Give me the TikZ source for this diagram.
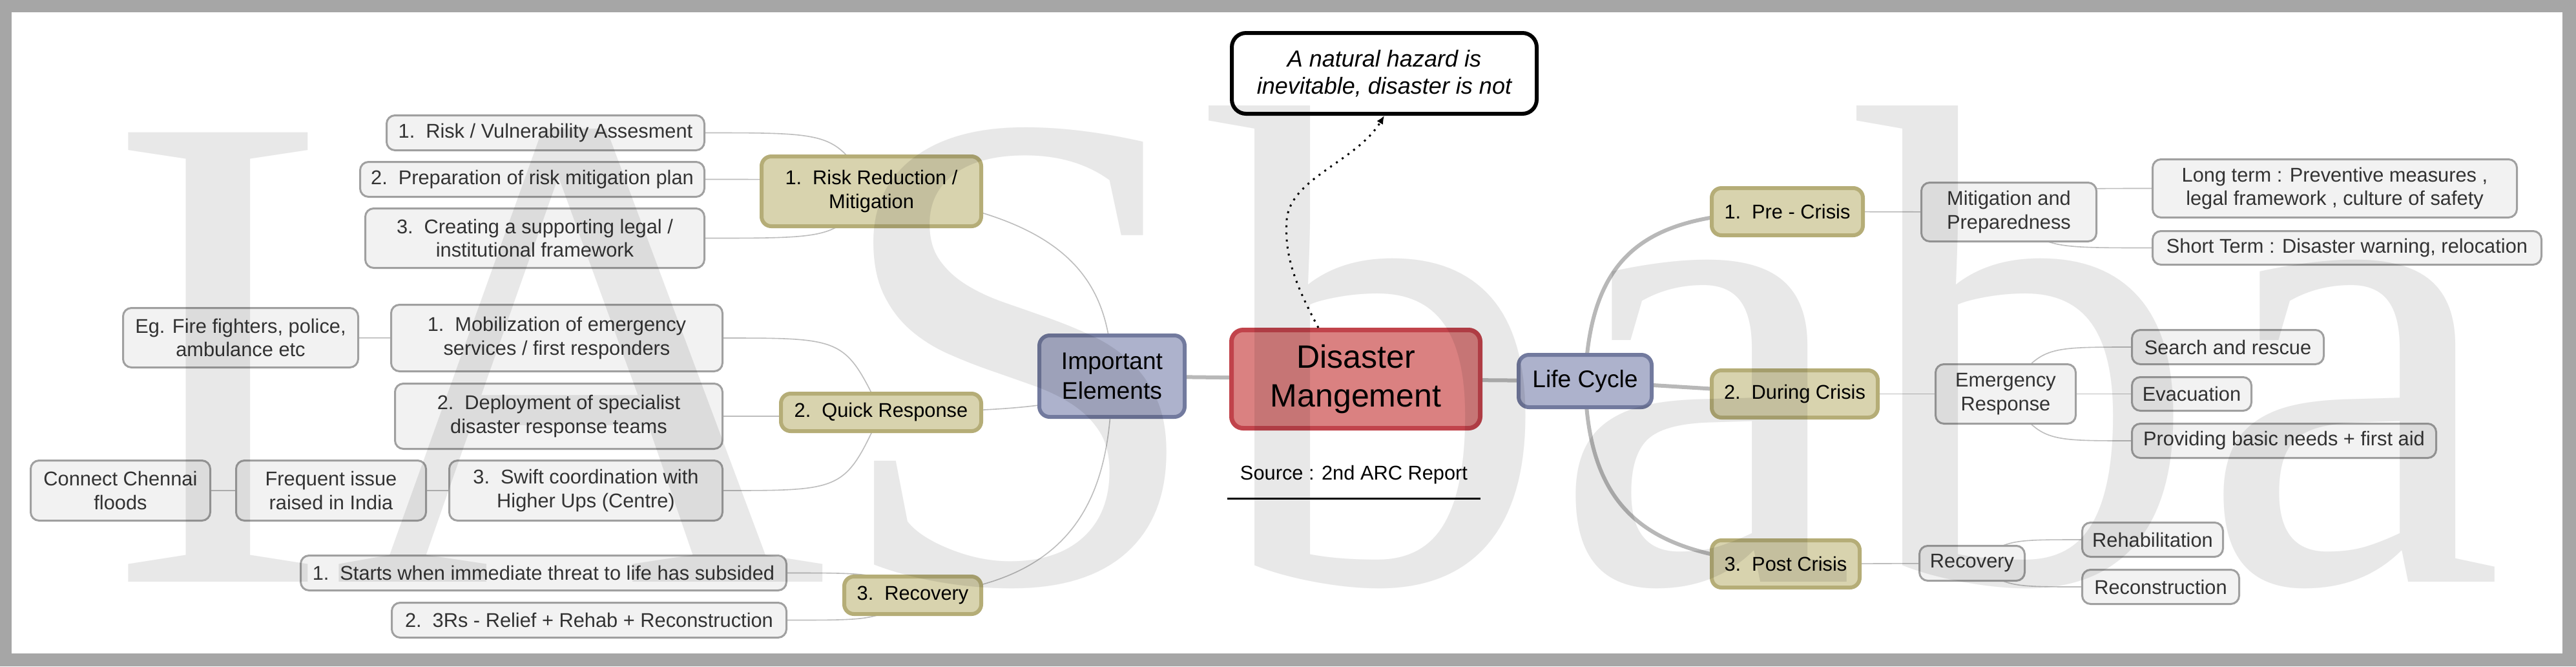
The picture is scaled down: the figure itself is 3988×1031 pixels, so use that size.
\documentclass[tikz,border=0pt]{standalone}
\usepackage{fontspec}
\setmainfont{Liberation Sans}
\newfontfamily\wmfont{Liberation Serif}
\usetikzlibrary{calc,arrows.meta}
\pgfdeclarelayer{framelayer}
\pgfdeclarelayer{edgelayer}
\pgfsetlayers{framelayer,edgelayer,main}
\definecolor{frameg}{HTML}{A6A6A6}
\definecolor{gfill}{HTML}{F2F2F2}
\definecolor{gdraw}{HTML}{A0A0A0}
\definecolor{gtext}{HTML}{333333}
\definecolor{tfill}{HTML}{D8D3AE}
\definecolor{tdraw}{HTML}{B5AD77}
\definecolor{pfill}{HTML}{ADB2CC}
\definecolor{pdraw}{HTML}{727A9E}
\definecolor{dfill}{HTML}{DA8181}
\definecolor{ddraw}{HTML}{C1434B}
\definecolor{lnkc}{HTML}{BDBDBD}
\definecolor{trunkc}{HTML}{B8B8B8}
\newcommand{\fsn}{\fontsize{7.7}{9.2}\selectfont}
\newcommand{\ns}{\hspace{0.55em}}
\newcommand{\bx}[7]{\node[#2, minimum width=#5*0.25pt, minimum height=#6*0.25pt] (#1) at (#3,#4) {#7};}
\begin{document}
\begin{tikzpicture}[x=0.25pt,y=-0.25pt,
  gbox/.style={rectangle, rounded corners=3.25pt, draw=gdraw, line width=0.75pt, fill=gfill, text=gtext, font=\fsn, align=center, inner sep=0pt},
  tbox/.style={rectangle, rounded corners=3.75pt, draw=tdraw, line width=1.5pt, fill=tfill, text=black, font=\fsn, align=center, inner sep=0pt},
  pbox/.style={rectangle, rounded corners=4pt, draw=pdraw, line width=1.5pt, fill=pfill, text=black, font=\fontsize{9.3}{11.5}\selectfont, align=center, inner sep=0pt},
  dbox/.style={rectangle, rounded corners=4.5pt, draw=ddraw, line width=1.75pt, fill=dfill, text=black, font=\fontsize{12.5}{15}\selectfont, align=center, inner sep=0pt},
  qbox/.style={rectangle, rounded corners=5.5pt, draw=black, line width=1.5pt, fill=white, text=black, font=\fontsize{9}{10.6}\selectfont\itshape, align=center, inner sep=0pt},
  lnk/.style={draw=lnkc, line width=0.4pt},
  trunk/.style={draw=trunkc, line width=1.5pt},
  wmark/.style={anchor=base west, inner sep=0pt, text=black, opacity=0.09, font=\wmfont\fontsize{265.5}{265.5}\selectfont}
]
\useasboundingbox (0,0) rectangle (3988,1031);
\begin{pgfonlayer}{framelayer}
\fill[frameg] (0,0) rectangle (3988,1031);
\fill[white] (18,19) rectangle (3967,1011);
\end{pgfonlayer}

% left side
\bx{a1}{gbox}{844.5}{205.5}{492}{54}{1.\ns Risk / Vulnerability Assesment}
\bx{a2}{gbox}{824}{277.5}{533}{54}{2.\ns Preparation of risk mitigation plan}
\bx{a3}{gbox}{828}{368.5}{525}{92}{3.\ns Creating a supporting legal /\\institutional framework}
\bx{eg}{gbox}{372.5}{522.5}{364}{92}{Eg. Fire fighters, police,\\ambulance etc}
\bx{b1}{gbox}{862}{523}{513}{103}{1.\ns Mobilization of emergency\\services / first responders}
\bx{b2}{gbox}{865}{644}{507}{101}{2.\ns Deployment of specialist\\disaster response teams}
\bx{cc}{gbox}{186.5}{759}{278}{93}{Connect Chennai\\floods}
\bx{fi}{gbox}{512.5}{759}{294}{93}{Frequent issue\\raised in India}
\bx{b3}{gbox}{907}{759}{423}{93}{3.\ns Swift coordination with\\Higher Ups (Centre)}
\bx{c1}{gbox}{841.5}{886.5}{752}{54}{1.\ns Starts when immediate threat to life has subsided}
\bx{c2}{gbox}{912}{959.5}{611}{54}{2.\ns 3Rs - Relief + Rehab + Reconstruction}
\bx{rr}{tbox}{1349}{296}{340}{108}{1.\ns Risk Reduction /\\Mitigation}
\bx{qr}{tbox}{1364}{638}{310}{58}{2.\ns Quick Response}
\bx{rec}{tbox}{1413}{921}{212}{58}{3.\ns Recovery}

% centre
\bx{ie}{pbox}{1721.5}{582}{225}{126}{Important\\Elements}
\bx{dm}{dbox}{2099}{586.5}{385}{152}{Disaster\\Mangement}
\bx{lc}{pbox}{2454}{589.5}{206}{81}{Life Cycle}
\bx{q}{qbox}{2143}{113.5}{472}{125}{A natural hazard is\\inevitable, disaster is not}
\node[font=\fsn, text=black, inner sep=0pt, minimum width=390*0.25pt, minimum height=72*0.25pt] (src) at (2096,735) {Source : 2nd ARC Report};
\draw[line width=0.75pt] (src.south west) -- (src.south east);

% right side
\bx{pre}{tbox}{2767}{327.5}{234}{73}{1.\ns Pre - Crisis}
\bx{dur}{tbox}{2778.5}{609.5}{257}{73}{2.\ns During Crisis}
\bx{post}{tbox}{2764.5}{872.5}{229}{73}{3.\ns Post Crisis}
\bx{mp}{gbox}{3110}{328}{271}{91}{Mitigation and\\Preparedness}
\bx{lt}{gbox}{3614.5}{291.5}{564}{90}{Long term : Preventive measures ,\\legal framework , culture of safety}
\bx{st}{gbox}{3633.5}{383.5}{602}{52}{Short Term : Disaster warning, relocation}
\bx{er}{gbox}{3105}{609.5}{217}{92}{Emergency\\Response}
\bx{sr}{gbox}{3449}{537}{297}{53}{Search and rescue}
\bx{ev}{gbox}{3393}{609.5}{185}{52}{Evacuation}
\bx{pb}{gbox}{3536}{682}{471}{53}{Providing basic needs + first aid}
\bx{rc}{gbox}{3053}{871.5}{163}{54}{Recovery}
\bx{rh}{gbox}{3332.5}{835}{218}{53}{Rehabilitation}
\bx{rn}{gbox}{3345}{908}{243}{53}{Reconstruction}

\begin{pgfonlayer}{edgelayer}
% trunk connectors
\draw[trunk] (dm.center) -- (ie.center);
\draw[trunk] (dm.center) -- (lc.center);
\draw[trunk] (lc.center) -- (dur.center);
\draw[trunk] (lc.center) .. controls (2462,380) and (2560,330) .. (pre.center);
\draw[trunk] (lc.center) .. controls (2458,800) and (2560,860) .. (post.center);
% important elements branches
\draw[lnk] (ie.center) .. controls (1720,420) and (1640,330) .. (rr.center);
\draw[lnk] (ie.center) .. controls (1690,625) and (1600,636) .. (qr.center);
\draw[lnk] (ie.center) .. controls (1720,750) and (1680,905) .. (rec.center);
% left leaves
\foreach \c/\p in {a1/rr,a2/rr,a3/rr,b1/qr,b2/qr,b3/qr,c1/rec,c2/rec}{
  \draw[lnk] (\c.east) .. controls ($(\c.east -| \p.center)+(-56,0)$) .. (\p.center);
}
\draw[lnk] (b1) -- (eg);
\draw[lnk] (b3) -- (fi);
\draw[lnk] (fi) -- (cc);
% right leaves
\draw[lnk] (pre) -- (mp);
\draw[lnk] (dur) -- (er);
\draw[lnk] (post) -- (rc);
\foreach \c/\p in {lt/mp,st/mp,sr/er,ev/er,pb/er,rh/rc,rn/rc}{
  \draw[lnk] (\c.west) .. controls ($(\c.west -| \p.center)+(56,0)$) .. (\p.center);
}
\end{pgfonlayer}

% dotted arrow to the quote
\coordinate (dmtop) at ($(dm.north west)!0.352!(dm.north east)$);
\draw[line width=0.75pt, dotted, -{Latex[length=3.2pt,width=2.8pt]}] (dmtop) .. controls (2005,440) and (1988,395) .. (1992,340) .. controls (1998,275) and (2100,250) .. (q.south);

% watermark
\node[wmark] (wm) at (160,900) {IASbaba};
\end{tikzpicture}
\end{document}
